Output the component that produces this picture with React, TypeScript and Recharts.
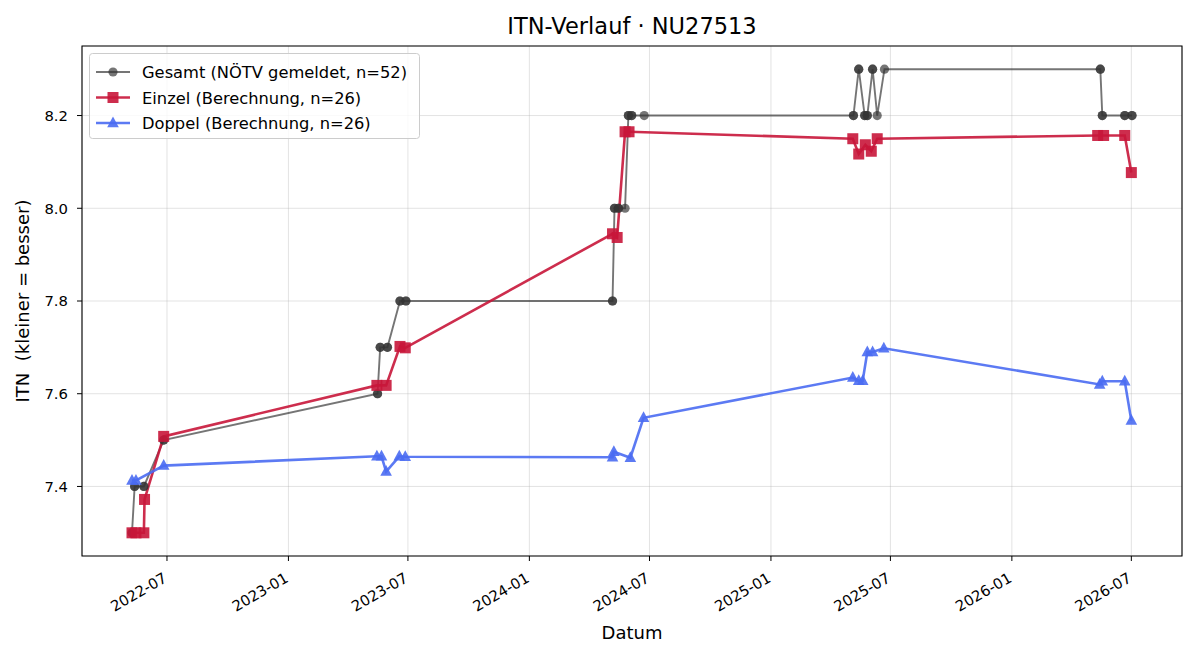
import React from 'react';
import { LineChart, Line, XAxis, YAxis, CartesianGrid, Legend, ReferenceArea } from 'recharts';

// ---------- data ----------
const gesamtDates = [
  '2022-05-09', '2022-05-09', '2022-05-13', '2022-05-13', '2022-05-27', '2022-05-27', '2022-06-26', '2022-06-26',
  '2023-05-16', '2023-05-16', '2023-05-20', '2023-05-20', '2023-05-31', '2023-05-31', '2023-06-19', '2023-06-19',
  '2023-06-28', '2023-06-28', '2024-05-06', '2024-05-06', '2024-05-09', '2024-05-09', '2024-05-15', '2024-05-15',
  '2024-05-25', '2024-05-30', '2024-05-30', '2024-06-04', '2024-06-04', '2024-06-23',
  '2025-05-06', '2025-05-06', '2025-05-14', '2025-05-14', '2025-05-23', '2025-05-23', '2025-05-27', '2025-05-27',
  '2025-06-04', '2025-06-04', '2025-06-11', '2025-06-22',
  '2026-05-15', '2026-05-15', '2026-05-18', '2026-05-18', '2026-06-21', '2026-06-21', '2026-07-02', '2026-07-02',
];
const gesamtValues = [
  7.3, 7.3, 7.4, 7.4, 7.4, 7.4, 7.5, 7.5,
  7.6, 7.6, 7.7, 7.7, 7.7, 7.7, 7.8, 7.8,
  7.8, 7.8, 7.8, 7.8, 8.0, 8.0, 8.0, 8.0,
  8.0, 8.2, 8.2, 8.2, 8.2, 8.2,
  8.2, 8.2, 8.3, 8.3, 8.2, 8.2, 8.2, 8.2,
  8.3, 8.3, 8.2, 8.3,
  8.3, 8.3, 8.2, 8.2, 8.2, 8.2, 8.2, 8.2,
];

const einzelDates = [
  '2022-05-09', '2022-05-15', '2022-05-27', '2022-05-28', '2022-06-26',
  '2023-05-15', '2023-05-29', '2023-06-19', '2023-06-27',
  '2024-05-06', '2024-05-13', '2024-05-25', '2024-05-31',
  '2025-05-05', '2025-05-14', '2025-05-24', '2025-06-02', '2025-06-11',
  '2026-05-11', '2026-05-20', '2026-06-21', '2026-07-01',
];
const einzelValues = [
  7.3, 7.3, 7.3, 7.372, 7.508,
  7.618, 7.618, 7.702, 7.699,
  7.945, 7.937, 8.165, 8.165,
  8.15, 8.117, 8.137, 8.123, 8.15,
  8.157, 8.157, 8.157, 8.077,
];

const doppelDates = [
  '2022-05-09', '2022-05-15', '2022-06-26',
  '2023-05-15', '2023-05-22', '2023-05-29', '2023-06-18', '2023-06-27',
  '2024-05-06', '2024-05-08', '2024-06-02', '2024-06-22',
  '2025-05-05', '2025-05-14', '2025-05-20', '2025-05-27', '2025-06-04', '2025-06-21',
  '2026-05-14', '2026-05-18', '2026-06-21', '2026-07-01',
];
const doppelValues = [
  7.413, 7.413, 7.445,
  7.465, 7.465, 7.432, 7.465, 7.464,
  7.463, 7.475, 7.462, 7.548,
  7.635, 7.628, 7.628, 7.69, 7.69, 7.698,
  7.62, 7.627, 7.627, 7.542,
];

const xTickLabels = ['2022-07', '2023-01', '2023-07', '2024-01', '2024-07', '2025-01', '2025-07', '2026-01', '2026-07'];
const yTicks = [7.4, 7.6, 7.8, 8.0, 8.2];
const yDomain: [number, number] = [7.25, 8.35];

const legendLabels = ['Gesamt (NÖTV gemeldet, n=52)', 'Einzel (Berechnung, n=26)', 'Doppel (Berechnung, n=26)'];

// ---------- helpers ----------
const toTs = (s: string) => {
  const [y, m, d] = s.split('-').map(Number);
  return Date.UTC(y, m - 1, d);
};
const build = (dates: string[], values: number[]) => dates.map((d, i) => ({ t: toTs(d), v: values[i] }));

const gesamtData = build(gesamtDates, gesamtValues);
const einzelData = build(einzelDates, einzelValues);
const doppelData = build(doppelDates, doppelValues);

const xTicks = xTickLabels.map((l) => toTs(l + '-01'));
const allT = [...gesamtData, ...einzelData, ...doppelData].map((p) => p.t);
const tMin = Math.min(...allT);
const tMax = Math.max(...allT);
const pad = (tMax - tMin) * 0.05;
const xDomain: [number, number] = [tMin - pad, tMax + pad];

const FONT = '"DejaVu Sans", Verdana, sans-serif';
const GRAY = '#333333';
const RED = '#c8163a';
const BLUE = '#4a6cf2';

// layout
const W = 1200;
const H = 660;
const PL = 82;
const PT = 46;
const PR = 1182;
const PB = 556;

const CircleDot = (props: any) => {
  const { cx, cy, index } = props;
  if (cx == null || cy == null) return null;
  return <circle key={'g' + index} cx={cx} cy={cy} r={4.6} fill={GRAY} fillOpacity={0.68} />;
};
const SquareDot = (props: any) => {
  const { cx, cy, index } = props;
  if (cx == null || cy == null) return null;
  return <rect key={'e' + index} x={cx - 5.5} y={cy - 5.5} width={11} height={11} fill={RED} fillOpacity={0.9} />;
};
const TriDot = (props: any) => {
  const { cx, cy, index } = props;
  if (cx == null || cy == null) return null;
  return (
    <polygon
      key={'d' + index}
      points={`${cx},${cy - 6.5} ${cx - 5.8},${cy + 4.2} ${cx + 5.8},${cy + 4.2}`}
      fill={BLUE}
      fillOpacity={0.9}
    />
  );
};

const XTick = (props: any) => {
  const { x, y, payload } = props;
  const idx = xTicks.indexOf(payload.value);
  const label = idx >= 0 ? xTickLabels[idx] : '';
  const ax = x + 1;
  const ay = y + 20;
  return (
    <text
      x={ax}
      y={ay}
      transform={`rotate(-30, ${ax}, ${ay})`}
      textAnchor="end"
      fontSize={14.8}
      fontFamily={FONT}
      fill="#000"
    >
      {label}
    </text>
  );
};

const LegendBox = () => {
  const rows = [
    { label: legendLabels[0], color: GRAY, op: 0.68, w: 1.8, kind: 'c' },
    { label: legendLabels[1], color: RED, op: 0.9, w: 2.6, kind: 's' },
    { label: legendLabels[2], color: BLUE, op: 0.9, w: 2.6, kind: 't' },
  ];
  return (
    <svg width={331} height={86} style={{ display: 'block' }}>
      <rect x={0.5} y={0.5} width={330} height={85} rx={3} ry={3} fill="#fff" fillOpacity={0.8} stroke="#cccccc" />
      {rows.map((r, i) => {
        const cy = 19 + i * 25.5;
        const mx = 24;
        return (
          <g key={i}>
            <line x1={7} x2={41} y1={cy} y2={cy} stroke={r.color} strokeOpacity={r.op} strokeWidth={r.w} />
            {r.kind === 'c' && <circle cx={mx} cy={cy} r={4.6} fill={r.color} fillOpacity={r.op} />}
            {r.kind === 's' && <rect x={mx - 5.5} y={cy - 5.5} width={11} height={11} fill={r.color} fillOpacity={r.op} />}
            {r.kind === 't' && (
              <polygon points={`${mx},${cy - 6.5} ${mx - 5.8},${cy + 4.2} ${mx + 5.8},${cy + 4.2}`} fill={r.color} fillOpacity={r.op} />
            )}
            <text x={53} y={cy + 6} fontSize={16.3} fontFamily={FONT} fill="#000">
              {r.label}
            </text>
          </g>
        );
      })}
    </svg>
  );
};

const XLabel = () => (
  <text x={(PL + PR) / 2} y={639} textAnchor="middle" fontSize={18} fontFamily={FONT} fill="#000">
    Datum
  </text>
);
const YLabel = () => (
  <text
    x={29}
    y={(PT + PB) / 2}
    transform={`rotate(-90, 29, ${(PT + PB) / 2})`}
    textAnchor="middle"
    fontSize={18}
    fontFamily={FONT}
    fill="#000"
    style={{ whiteSpace: 'pre' }}
    xmlSpace="preserve"
  >
    {'ITN  (kleiner = besser)'}
  </text>
);

export default function App() {
  return (
    <div style={{ position: 'absolute', left: 0, top: 0, width: W, height: H, background: '#fff', fontFamily: FONT }}>
      <div
        style={{
          position: 'absolute',
          left: PL,
          width: PR - PL,
          top: 11,
          textAlign: 'center',
          fontSize: 22.5,
          fontFamily: FONT,
          color: '#000',
          lineHeight: '30px',
          zIndex: 2,
        }}
      >
        ITN-Verlauf · NU27513
      </div>
      <LineChart width={W} height={H} margin={{ top: PT, right: W - PR, bottom: 4, left: 0 }}>
        <CartesianGrid stroke="#b0b0b0" strokeOpacity={0.35} />
        <XAxis
          dataKey="t"
          type="number"
          scale="linear"
          domain={xDomain}
          allowDataOverflow
          ticks={xTicks}
          interval={0}
          axisLine={false}
          tickLine={{ stroke: '#000', strokeWidth: 1 }}
          tickSize={5}
          tickMargin={0}
          tick={<XTick />}
          height={H - PB - 4}
          label={<XLabel />}
        />
        <YAxis
          dataKey="v"
          type="number"
          domain={yDomain}
          allowDataOverflow
          ticks={yTicks}
          interval={0}
          axisLine={false}
          tickLine={{ stroke: '#000', strokeWidth: 1 }}
          tickSize={5}
          tickMargin={9}
          tickFormatter={(v: number) => v.toFixed(1)}
          tick={{ fontSize: 14.8, fontFamily: FONT, fill: '#000' }}
          width={PL}
          label={<YLabel />}
        />
        <ReferenceArea
          x1={xDomain[0]}
          x2={xDomain[1]}
          y1={yDomain[0]}
          y2={yDomain[1]}
          fill="none"
          stroke="#000"
          strokeWidth={1.1}
          ifOverflow="visible"
        />
        <Line
          data={gesamtData}
          dataKey="v"
          name={legendLabels[0]}
          type="linear"
          stroke={GRAY}
          strokeOpacity={0.68}
          strokeWidth={1.9}
          dot={<CircleDot />}
          activeDot={false}
          isAnimationActive={false}
        />
        <Line
          data={einzelData}
          dataKey="v"
          name={legendLabels[1]}
          type="linear"
          stroke={RED}
          strokeOpacity={0.9}
          strokeWidth={2.6}
          dot={<SquareDot />}
          activeDot={false}
          isAnimationActive={false}
        />
        <Line
          data={doppelData}
          dataKey="v"
          name={legendLabels[2]}
          type="linear"
          stroke={BLUE}
          strokeOpacity={0.9}
          strokeWidth={2.6}
          dot={<TriDot />}
          activeDot={false}
          isAnimationActive={false}
        />
        <Legend
          layout="horizontal"
          verticalAlign="middle"
          align="center"
          content={<LegendBox />}
          wrapperStyle={{ position: 'absolute', left: 89, top: 53, width: 331, height: 86 }}
        />
      </LineChart>
    </div>
  );
}
